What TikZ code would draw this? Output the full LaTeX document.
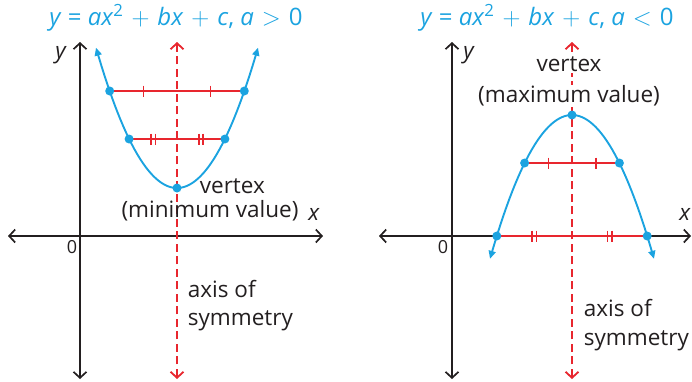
\documentclass[tikz,border=0pt]{standalone}
\usepackage{fontspec}
\setmainfont{Open Sans}
\usetikzlibrary{positioning, arrows.meta, calc}
\definecolor{qdBlue}{HTML}{1BA3E0}
\definecolor{qdRed}{HTML}{E8262E}
\definecolor{qdInk}{HTML}{231F20}
\tikzset{
  qd/.style={x=1pt, y=-1pt, font=\fontsize{22.5}{26}\selectfont, line width=1.8pt},
  axis/.style={draw=qdInk, line width=1.7pt, {Straight Barb[length=6pt,width=13pt]}-{Straight Barb[length=6pt,width=13pt]}},
  sym/.style={draw=qdRed, line width=1.8pt, dash pattern=on 8pt off 4.5pt, {Straight Barb[length=6pt,width=13pt]}-{Straight Barb[length=6pt,width=13pt]}},
  curve/.style={draw=qdBlue, line width=1.9pt, {Triangle[length=8pt,width=7pt]}-{Triangle[length=8pt,width=7pt]}},
  chord/.style={draw=qdRed, line width=2pt},
  dot/.style={circle, fill=qdBlue, inner sep=0pt, minimum size=9pt},
  lbl/.style={inner sep=0pt, text=qdInk},
  ttl/.style={inner sep=0pt, text=qdBlue, font=\fontsize{24}{28}\selectfont},
}

\begin{document}
\begin{tikzpicture}[
  qd,
]
\useasboundingbox (0,0) rectangle (692,381);

% a > 0
\node[ttl] (t1) at (176,18) {\textit{y} = \textit{ax}\textsuperscript{2}\,\,$+$\,\,\textit{bx}\,\,$+$\,\,\textit{c}, \textit{a}\,\,$>$\,\,0};
\coordinate (lya) at (80,42);
\coordinate (lyb) at (80,379);
\coordinate (lxa) at (8,236);
\coordinate (lxb) at (323,236);
\coordinate (lsa) at (177,42);
\coordinate (lsb) at (177,379);
\draw[axis] (lxa) -- (lxb);
\draw[axis] (lyb) -- (lya);
\node[lbl] (ly) at (61,55) {\textit{y}};
\node[lbl] (lx) at (314,214) {\textit{x}};
\node[lbl, font=\fontsize{18}{20}\selectfont] (lo) at (72,247) {0};
\draw[sym] (lsb) -- (lsa);
\draw[curve] plot[domain=-81:81, samples=60] ({177+\x},{188-0.0214*\x*\x});
\coordinate (tl) at (109.7,91);
\coordinate (tr) at (244.3,91);
\coordinate (ml) at (129.1,139);
\coordinate (mr) at (224.9,139);
\draw[chord] (tl) -- (tr);
\draw[chord] (ml) -- (mr);
\foreach \p in {0.25,0.75} {
  \draw[chord, line width=1.6pt] ($(tl)!\p!(tr)$) ++(0,-5.5) -- ++(0,11);
  \foreach \o in {-2.2,2.2}
    \draw[chord, line width=1.5pt] ($(ml)!\p!(mr)$) ++(\o,-5.5) -- ++(0,11);
}
\node[dot] (v1) at (177,188) {};
\foreach \c in {tl,tr,ml,mr} \node[dot] at (\c) {};
\node[lbl, anchor=west] (vx1) at (199,186) {vertex};
\node[lbl] (mn) at (210,211) {(minimum value)};
\node[lbl, anchor=west] (ax1) at (187,289) {axis of};
\node[lbl, anchor=west] (sy1) at (187,321) {symmetry};

% a < 0
\node[ttl] (t2) at (547,18) {\textit{y} = \textit{ax}\textsuperscript{2}\,\,$+$\,\,\textit{bx}\,\,$+$\,\,\textit{c}, \textit{a}\,\,$<$\,\,0};
\coordinate (rya) at (452,42);
\coordinate (ryb) at (452,379);
\coordinate (rxa) at (379,236);
\coordinate (rxb) at (691,236);
\coordinate (rsa) at (572,42);
\coordinate (rsb) at (572,379);
\draw[axis] (rxa) -- (rxb);
\draw[axis] (ryb) -- (rya);
\node[lbl] (ry) at (469,55) {\textit{y}};
\node[lbl] (rx) at (685,214) {\textit{x}};
\node[lbl, font=\fontsize{18}{20}\selectfont] (ro) at (443,247) {0};
\draw[sym] (rsb) -- (rsa);
\draw[curve] plot[domain=-82:82, samples=60] ({572+\x},{115+0.0214*\x*\x});
\coordinate (ul) at (524.6,163);
\coordinate (ur) at (619.4,163);
\coordinate (bl) at (496.8,236);
\coordinate (br) at (647.2,236);
\draw[chord] (ul) -- (ur);
\draw[chord] (bl) -- (br);
\foreach \p in {0.25,0.75} {
  \draw[chord, line width=1.6pt] ($(ul)!\p!(ur)$) ++(0,-5.5) -- ++(0,11);
  \foreach \o in {-2.2,2.2}
    \draw[chord, line width=1.5pt] ($(bl)!\p!(br)$) ++(\o,-5.5) -- ++(0,11);
}
\node[dot] (v2) at (572,115) {};
\foreach \c in {ul,ur,bl,br} \node[dot] at (\c) {};
\node[lbl, fill=white, inner sep=1pt] (mx) at (569,96) {(maximum value)};
\node[lbl, fill=white, inner sep=1pt] (vx2) at (569,64) {vertex};
\node[lbl, anchor=west] (ax2) at (583,308) {axis of};
\node[lbl, anchor=west] (sy2) at (583,341) {symmetry};
\end{tikzpicture}
\end{document}
